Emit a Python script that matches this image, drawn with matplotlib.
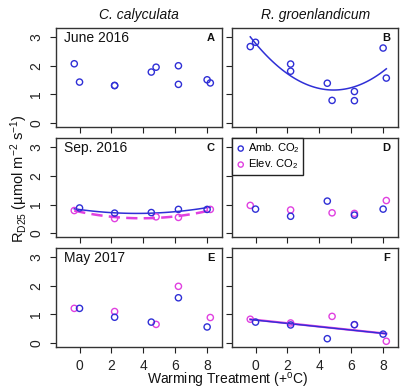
import numpy as np
import matplotlib
matplotlib.use("Agg")
import matplotlib.pyplot as plt

plt.rcParams['font.family'] = ['Liberation Sans', 'DejaVu Sans']
plt.rcParams['mathtext.default'] = 'regular'

# ---- data ----
species = ["C. calyculata", "R. groenlandicum"]
dates = ["June 2016", "Sep. 2016", "May 2017"]
panel_letters = [["A", "B"], ["C", "D"], ["E", "F"]]
xticks = [0, 2, 4, 6, 8]
yticks = [0, 1, 2, 3]

amb_x = [0.0, 2.2, 4.5, 6.2, 8.0]
elev_x = [-0.33, 2.2, 4.8, 6.2, 8.2]

A_amb = [1.43, 1.31, 1.78, 1.35, 1.51]
A_elev = [2.07, 1.31, 1.95, 2.00, 1.40]
B_amb = [2.82, 2.06, 1.39, 1.10, 2.62]
B_elev = [2.67, 1.81, 0.79, 0.78, 1.57]
C_amb = [0.88, 0.70, 0.72, 0.83, 0.83]
C_elev = [0.79, 0.51, 0.57, 0.55, 0.83]
D_amb = [0.84, 0.59, 1.12, 0.63, 0.84]
D_elev = [0.97, 0.81, 0.71, 0.69, 1.14]
E_amb = [1.21, 0.90, 0.73, 1.58, 0.56]
E_elev = [1.21, 1.10, 0.65, 1.98, 0.89]
F_amb = [0.73, 0.63, 0.15, 0.64, 0.31]
F_elev = [0.83, 0.70, 0.93, 0.64, 0.06]

# fitted curve coefficients (highest power first)
B_fit = [0.068, -0.666, 2.783]
C_amb_fit = [0.0105, -0.0756, 0.826]
C_elev_fit = [0.015, -0.117, 0.748]
F_amb_fit = [-0.058, 0.80]
F_elev_fit = [-0.059, 0.81]

BLUE = '#2f2fd6'
MAG = '#e040e0'

fig = plt.figure(figsize=(4.0, 3.92), dpi=100)

lefts = [0.141, 0.581]
width = 0.4135
bottoms = [0.676, 0.395, 0.1148]
height = 0.2526

xlim = (-1.45, 8.92)
ylim = (-0.14, 3.32)

panels = {
    (0, 0): (A_amb, A_elev, True),   # both blue
    (0, 1): (B_amb, B_elev, True),
    (1, 0): (C_amb, C_elev, False),
    (1, 1): (D_amb, D_elev, False),
    (2, 0): (E_amb, E_elev, False),
    (2, 1): (F_amb, F_elev, False),
}

xs_all = amb_x + elev_x
xfit = np.linspace(min(xs_all), max(xs_all), 100)

axes = {}
for r in range(3):
    for c in range(2):
        ax = fig.add_axes([lefts[c], bottoms[r], width, height])
        axes[(r, c)] = ax
        amb, elev, allblue = panels[(r, c)]
        ecol = BLUE if allblue else MAG
        ax.scatter(elev_x, elev, s=20, facecolors='none', edgecolors=ecol, linewidths=1.0, zorder=3)
        ax.scatter(amb_x, amb, s=20, facecolors='none', edgecolors=BLUE, linewidths=1.0, zorder=3)
        ax.set_xlim(*xlim)
        ax.set_ylim(*ylim)
        ax.set_xticks(xticks)
        ax.set_yticks(yticks)
        ax.tick_params(direction='out', length=4.5, width=0.8, colors='#222222',
                       labelsize=10, labelcolor='#222222')
        ax.tick_params(axis='y', pad=5)
        ax.tick_params(axis='x', pad=4)
        if r < 2:
            ax.tick_params(axis='x', labelbottom=False)
        if c == 1:
            ax.tick_params(axis='y', labelleft=False)
        else:
            for lab in ax.get_yticklabels():
                lab.set_rotation(90)
                lab.set_va('center')
        for sp in ax.spines.values():
            sp.set_linewidth(1.0)
            sp.set_color('#333333')
        if c == 0:
            ax.text(0.045, 0.9, dates[r], transform=ax.transAxes, fontsize=10,
                    ha='left', va='center', color='#111111')
        ax.text(0.955, 0.9, panel_letters[r][c], transform=ax.transAxes, fontsize=8,
                fontweight='bold', ha='right', va='center', color='#111111')

# fits
axB = axes[(0, 1)]
axB.plot(xfit, np.polyval(B_fit, xfit), color=BLUE, lw=1.1, zorder=2)
axC = axes[(1, 0)]
axC.plot(xfit, np.polyval(C_elev_fit, xfit), color=MAG, lw=1.8, ls=(0, (4.5, 2.5)), zorder=2)
axC.plot(xfit, np.polyval(C_amb_fit, xfit), color=BLUE, lw=1.1, zorder=2)
axF = axes[(2, 1)]
axF.plot(xfit, np.polyval(F_elev_fit, xfit), color=MAG, lw=1.6, zorder=2)
axF.plot(xfit, np.polyval(F_amb_fit, xfit), color=BLUE, lw=1.0, zorder=2)

# legend in D
axD = axes[(1, 1)]
h1 = axD.scatter([], [], s=14, facecolors='none', edgecolors=BLUE, linewidths=1.0)
h2 = axD.scatter([], [], s=14, facecolors='none', edgecolors=MAG, linewidths=1.0)
leg = axD.legend([h1, h2], ['Amb. CO$_2$', 'Elev. CO$_2$'], loc='upper left',
                 borderaxespad=0, fontsize=8, handletextpad=0.2, handlelength=0.9,
                 borderpad=0.3, labelspacing=0.2, fancybox=False, framealpha=1,
                 edgecolor='#222222')
leg.get_frame().set_linewidth(1.0)

# column titles
for c in range(2):
    fig.text(lefts[c] + width / 2, 0.962, species[c], fontsize=10, style='italic',
             ha='center', va='center', color='#111111')

fig.text(0.048, 0.545, 'R$_{D25}$ (µmol m$^{-2}$ s$^{-1}$)', rotation=90, fontsize=10.5,
         ha='center', va='center', color='#111111')
fig.text(0.569, 0.004, 'Warming Treatment (+$^{o}$C)', fontsize=10,
         ha='center', va='bottom', color='#111111')

fig.savefig('out.png', dpi=100)
